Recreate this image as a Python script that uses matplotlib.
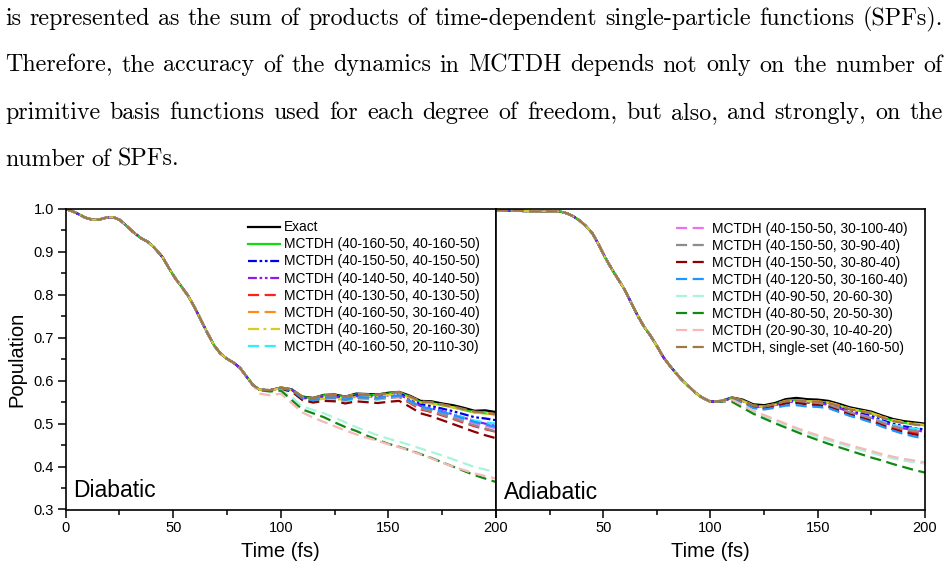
import numpy as np
import matplotlib
matplotlib.use('Agg')
import matplotlib.pyplot as plt
from matplotlib.ticker import MultipleLocator

plt.rcParams['font.family'] = ['Liberation Sans', 'DejaVu Sans']

#----- paragraph above the figure -----#
para_lines = [
    "is represented as the sum of products of time-dependent single-particle functions (SPFs).",
    "Therefore, the accuracy of the dynamics in MCTDH depends not only on the number of",
    "primitive basis functions used for each degree of freedom, but also, and strongly, on the",
    "number of SPFs.",
]
para_justify = [True, True, True, False]

#----- series labels / styles -----#
labels = [
    "Exact",
    "MCTDH (40-160-50, 40-160-50)",
    "MCTDH (40-150-50, 40-150-50)",
    "MCTDH (40-140-50, 40-140-50)",
    "MCTDH (40-130-50, 40-130-50)",
    "MCTDH (40-160-50, 30-160-40)",
    "MCTDH (40-160-50, 20-160-30)",
    "MCTDH (40-160-50, 20-110-30)",
    "MCTDH (40-150-50, 30-100-40)",
    "MCTDH (40-150-50, 30-90-40)",
    "MCTDH (40-150-50, 30-80-40)",
    "MCTDH (40-120-50, 30-160-40)",
    "MCTDH (40-90-50, 20-60-30)",
    "MCTDH (40-80-50, 20-50-30)",
    "MCTDH (20-90-30, 10-40-20)",
    "MCTDH, single-set (40-160-50)",
]
colors = ['black', '#10dd10', '#0000ee', '#8a1cf0', '#ff2020', '#ff8c1a', '#d8cc20',
          '#30eeff', '#ee70ee', '#8c8c8c', '#8b0000', '#1e96ff', '#a8f5dc', '#128812',
          '#f6b8b8', '#a07848']
dashdotdot = (0, (4, 1.2, 1.2, 1.2, 1.2, 1.2))
dash = (0, (5, 2.5))
styles = ['-', '-', dashdotdot, dashdotdot, dash, dash, (0, (5, 2, 1.2, 2)), dash,
          dash, dash, dash, dash, dash, dash, dash, dash]

#----- Diabatic panel data -----#
dia_t_common = [0, 3, 6, 9, 12.5, 16, 19, 22, 25, 28, 31, 35, 38, 41, 45, 48, 51, 54,
                57, 60, 63, 66, 69, 72, 75, 78, 81, 84, 87]
dia_common = [1.000, 0.995, 0.988, 0.980, 0.975, 0.976, 0.980, 0.981, 0.975, 0.962,
              0.948, 0.932, 0.924, 0.911, 0.888, 0.862, 0.838, 0.818, 0.797, 0.770,
              0.740, 0.710, 0.682, 0.663, 0.651, 0.642, 0.630, 0.610, 0.590]
dia_t_tail = [90, 95, 100, 105, 110, 115, 120, 125, 130, 135, 140, 145, 150, 155, 160,
              165, 170, 175, 180, 185, 190, 195, 200]
dia_tails = [
    [0.579, 0.578, 0.584, 0.580, 0.563, 0.560, 0.567, 0.568, 0.563, 0.570, 0.569, 0.568, 0.572, 0.574, 0.565, 0.553, 0.552, 0.547, 0.543, 0.537, 0.530, 0.531, 0.527],
    [0.579, 0.578, 0.584, 0.580, 0.562, 0.559, 0.566, 0.566, 0.562, 0.568, 0.567, 0.566, 0.570, 0.573, 0.562, 0.550, 0.548, 0.543, 0.538, 0.532, 0.526, 0.524, 0.521],
    [0.579, 0.578, 0.583, 0.579, 0.561, 0.558, 0.564, 0.565, 0.560, 0.566, 0.565, 0.564, 0.568, 0.571, 0.558, 0.545, 0.541, 0.535, 0.529, 0.522, 0.515, 0.512, 0.508],
    [0.579, 0.578, 0.583, 0.579, 0.560, 0.557, 0.563, 0.563, 0.558, 0.564, 0.563, 0.562, 0.566, 0.568, 0.555, 0.541, 0.536, 0.529, 0.522, 0.514, 0.506, 0.500, 0.495],
    [0.579, 0.577, 0.582, 0.578, 0.558, 0.554, 0.560, 0.560, 0.554, 0.560, 0.558, 0.557, 0.560, 0.562, 0.548, 0.533, 0.527, 0.519, 0.511, 0.502, 0.494, 0.487, 0.481],
    [0.579, 0.578, 0.584, 0.580, 0.562, 0.559, 0.566, 0.567, 0.562, 0.569, 0.568, 0.567, 0.571, 0.573, 0.563, 0.551, 0.549, 0.544, 0.539, 0.533, 0.527, 0.525, 0.521],
    [0.579, 0.577, 0.583, 0.578, 0.559, 0.555, 0.558, 0.557, 0.556, 0.562, 0.563, 0.563, 0.567, 0.570, 0.560, 0.549, 0.547, 0.542, 0.538, 0.532, 0.526, 0.523, 0.519],
    [0.579, 0.577, 0.582, 0.577, 0.557, 0.552, 0.556, 0.555, 0.553, 0.558, 0.557, 0.556, 0.560, 0.563, 0.551, 0.538, 0.533, 0.527, 0.521, 0.514, 0.507, 0.503, 0.500],
    [0.579, 0.577, 0.582, 0.578, 0.559, 0.555, 0.561, 0.561, 0.556, 0.562, 0.560, 0.559, 0.563, 0.565, 0.551, 0.537, 0.531, 0.524, 0.517, 0.509, 0.501, 0.495, 0.489],
    [0.579, 0.577, 0.582, 0.578, 0.558, 0.554, 0.560, 0.560, 0.555, 0.561, 0.559, 0.558, 0.562, 0.564, 0.550, 0.535, 0.529, 0.521, 0.513, 0.504, 0.496, 0.489, 0.482],
    [0.578, 0.576, 0.580, 0.575, 0.555, 0.549, 0.553, 0.552, 0.547, 0.552, 0.550, 0.548, 0.551, 0.553, 0.539, 0.524, 0.517, 0.508, 0.499, 0.490, 0.481, 0.473, 0.466],
    [0.579, 0.577, 0.582, 0.578, 0.559, 0.555, 0.561, 0.561, 0.556, 0.562, 0.561, 0.560, 0.563, 0.566, 0.553, 0.540, 0.534, 0.527, 0.520, 0.512, 0.504, 0.498, 0.493],
    [0.577, 0.575, 0.578, 0.562, 0.540, 0.532, 0.524, 0.514, 0.503, 0.492, 0.482, 0.473, 0.465, 0.458, 0.450, 0.442, 0.434, 0.426, 0.417, 0.408, 0.399, 0.393, 0.387],
    [0.578, 0.575, 0.577, 0.555, 0.533, 0.524, 0.515, 0.503, 0.492, 0.483, 0.472, 0.462, 0.453, 0.446, 0.438, 0.429, 0.420, 0.410, 0.400, 0.390, 0.380, 0.372, 0.364],
    [0.570, 0.566, 0.570, 0.548, 0.526, 0.514, 0.504, 0.494, 0.484, 0.475, 0.467, 0.460, 0.452, 0.445, 0.437, 0.428, 0.419, 0.409, 0.400, 0.392, 0.384, 0.378, 0.372],
    [0.579, 0.578, 0.584, 0.580, 0.562, 0.559, 0.566, 0.566, 0.562, 0.568, 0.567, 0.567, 0.571, 0.573, 0.563, 0.552, 0.550, 0.545, 0.540, 0.534, 0.528, 0.526, 0.522],
]

#----- Adiabatic panel data -----#
adi_t_common = [0, 5, 10, 15, 20, 25, 30, 33, 36, 39, 42, 45, 48, 51, 54, 57, 60, 63,
                 66, 69, 72, 75, 78, 81, 84, 87, 90, 93, 96]
adi_common = [0.997, 0.996, 0.996, 0.995, 0.994, 0.995, 0.994, 0.990, 0.983, 0.973,
              0.960, 0.943, 0.916, 0.886, 0.860, 0.836, 0.812, 0.782, 0.752, 0.726,
              0.705, 0.681, 0.655, 0.635, 0.617, 0.600, 0.586, 0.572, 0.561]
adi_t_tail = [100, 105, 110, 115, 120, 125, 130, 135, 140, 145, 150, 155, 160, 165, 170,
              175, 180, 185, 190, 195, 200]
adi_tails = [
    [0.551, 0.553, 0.561, 0.556, 0.545, 0.543, 0.548, 0.557, 0.560, 0.557, 0.556, 0.553, 0.546, 0.538, 0.533, 0.528, 0.519, 0.511, 0.506, 0.503, 0.500],
    [0.551, 0.553, 0.560, 0.554, 0.542, 0.540, 0.545, 0.553, 0.555, 0.552, 0.551, 0.549, 0.542, 0.534, 0.530, 0.524, 0.515, 0.507, 0.502, 0.499, 0.496],
    [0.551, 0.553, 0.559, 0.553, 0.541, 0.539, 0.544, 0.551, 0.553, 0.550, 0.549, 0.546, 0.538, 0.529, 0.524, 0.518, 0.508, 0.500, 0.494, 0.490, 0.486],
    [0.551, 0.553, 0.559, 0.553, 0.540, 0.538, 0.543, 0.550, 0.552, 0.549, 0.548, 0.544, 0.536, 0.527, 0.521, 0.514, 0.504, 0.496, 0.489, 0.485, 0.481],
    [0.551, 0.552, 0.558, 0.552, 0.539, 0.537, 0.542, 0.549, 0.550, 0.547, 0.545, 0.541, 0.532, 0.523, 0.516, 0.509, 0.499, 0.490, 0.483, 0.479, 0.476],
    [0.551, 0.553, 0.560, 0.554, 0.542, 0.540, 0.545, 0.553, 0.555, 0.553, 0.552, 0.549, 0.543, 0.535, 0.530, 0.525, 0.516, 0.508, 0.503, 0.499, 0.496],
    [0.551, 0.553, 0.559, 0.553, 0.541, 0.539, 0.544, 0.552, 0.554, 0.552, 0.551, 0.549, 0.542, 0.534, 0.530, 0.525, 0.516, 0.508, 0.503, 0.500, 0.497],
    [0.551, 0.552, 0.558, 0.551, 0.538, 0.536, 0.540, 0.547, 0.549, 0.546, 0.545, 0.542, 0.534, 0.526, 0.520, 0.514, 0.505, 0.497, 0.492, 0.489, 0.487],
    [0.551, 0.552, 0.558, 0.552, 0.540, 0.537, 0.542, 0.549, 0.551, 0.548, 0.547, 0.543, 0.535, 0.526, 0.520, 0.513, 0.503, 0.495, 0.488, 0.484, 0.480],
    [0.551, 0.552, 0.558, 0.552, 0.539, 0.537, 0.542, 0.549, 0.550, 0.547, 0.546, 0.542, 0.534, 0.525, 0.519, 0.512, 0.502, 0.494, 0.487, 0.483, 0.479],
    [0.551, 0.552, 0.557, 0.551, 0.538, 0.535, 0.540, 0.547, 0.548, 0.545, 0.543, 0.539, 0.530, 0.521, 0.514, 0.506, 0.496, 0.487, 0.480, 0.475, 0.471],
    [0.551, 0.552, 0.556, 0.549, 0.536, 0.533, 0.537, 0.542, 0.543, 0.540, 0.539, 0.536, 0.527, 0.518, 0.511, 0.503, 0.493, 0.484, 0.476, 0.470, 0.465],
    [0.551, 0.553, 0.555, 0.541, 0.528, 0.517, 0.507, 0.497, 0.487, 0.478, 0.469, 0.461, 0.454, 0.446, 0.439, 0.432, 0.425, 0.419, 0.414, 0.410, 0.407],
    [0.551, 0.552, 0.551, 0.537, 0.523, 0.512, 0.501, 0.491, 0.481, 0.471, 0.462, 0.453, 0.445, 0.437, 0.429, 0.421, 0.414, 0.406, 0.399, 0.392, 0.386],
    [0.551, 0.553, 0.556, 0.543, 0.530, 0.520, 0.510, 0.500, 0.490, 0.481, 0.473, 0.465, 0.457, 0.450, 0.443, 0.436, 0.429, 0.423, 0.418, 0.414, 0.410],
    [0.551, 0.553, 0.560, 0.554, 0.542, 0.540, 0.545, 0.552, 0.554, 0.552, 0.551, 0.548, 0.541, 0.533, 0.529, 0.523, 0.514, 0.506, 0.501, 0.498, 0.495],
]

x_ticks = [0, 50, 100, 150, 200]
dia_xticklabels = ['0', '50', '100', '150', '200']
adi_xticklabels = ['', '50', '100', '150', '200']
y_ticks = [0.3, 0.4, 0.5, 0.6, 0.7, 0.8, 0.9, 1.0]

W, H = 949, 568
fig = plt.figure(figsize=(W / 100, H / 100), dpi=100)

#----- justified paragraph -----#
renderer = fig.canvas.get_renderer()
baselines = [25, 71.5, 119, 166]
x_left, x_right = 5 / W, 943 / W
for line, base, just in zip(para_lines, baselines, para_justify):
    words = line.split(' ')
    texts = [fig.text(0, 1 - base / H, w, fontsize=17.3, family='cmr10',
                      va='baseline', ha='left') for w in words]
    widths = [t.get_window_extent(renderer).width / W for t in texts]
    if just:
        gap = (x_right - x_left - sum(widths)) / (len(words) - 1)
    else:
        gap = 0.0072
    x = x_left
    for t, w in zip(texts, widths):
        t.set_x(x)
        x += w + gap

#----- axes -----#
bot = (H - 509.5) / H
top = (H - 209) / H
ax1 = fig.add_axes([65.7 / W, bot, (496 - 65.7) / W, top - bot])
ax2 = fig.add_axes([496 / W, bot, (925 - 496) / W, top - bot])

lines1, lines2 = [], []
for i in range(len(labels)):
    l1, = ax1.plot(list(dia_t_common) + dia_t_tail, list(dia_common) + dia_tails[i],
                   color=colors[i], ls=styles[i], lw=1.6, label=labels[i])
    l2, = ax2.plot(list(adi_t_common) + adi_t_tail, list(adi_common) + adi_tails[i],
                   color=colors[i], ls=styles[i], lw=1.6, label=labels[i])
    lines1.append(l1)
    lines2.append(l2)

for ax, xl in [(ax1, dia_xticklabels), (ax2, adi_xticklabels)]:
    ax.set_xlim(0, 200)
    ax.set_ylim(0.3, 1.0)
    ax.set_xticks(x_ticks)
    ax.set_xticklabels(xl)
    ax.xaxis.set_minor_locator(MultipleLocator(25))
    for s in ax.spines.values():
        s.set_linewidth(1.2)
    ax.tick_params(which='major', direction='out', length=5.5, width=1.1, labelsize=10.5, pad=3)
    ax.tick_params(which='minor', direction='out', length=3.5, width=1.1)
    ax.tick_params(top=False, right=False, which='both')
    ax.set_xlabel('Time (fs)', fontsize=14.5, labelpad=5)

ax1.set_yticks(y_ticks)
ax1.set_yticklabels(['%.1f' % v for v in y_ticks])
ax1.yaxis.set_minor_locator(MultipleLocator(0.05))
ax1.set_ylabel('Population', fontsize=14.5, labelpad=5)
ax2.set_yticks([])
ax2.tick_params(axis='y', which='both', left=False, labelleft=False)

ax1.text(0.018, 0.043, 'Diabatic', transform=ax1.transAxes, fontsize=16.5, va='baseline')
ax2.text(0.018, 0.035, 'Adiabatic', transform=ax2.transAxes, fontsize=16.5, va='baseline')

leg_kw = dict(frameon=False, fontsize=9.95, handlelength=2.3, handletextpad=0.3,
              labelspacing=0.22, borderpad=0, borderaxespad=0, loc='upper left')
ax1.legend(lines1[:8], labels[:8], bbox_to_anchor=(0.424, 0.962), **leg_kw)
ax2.legend(lines2[8:], labels[8:], bbox_to_anchor=(0.419, 0.957), **leg_kw)

fig.savefig('out.png', dpi=100)
